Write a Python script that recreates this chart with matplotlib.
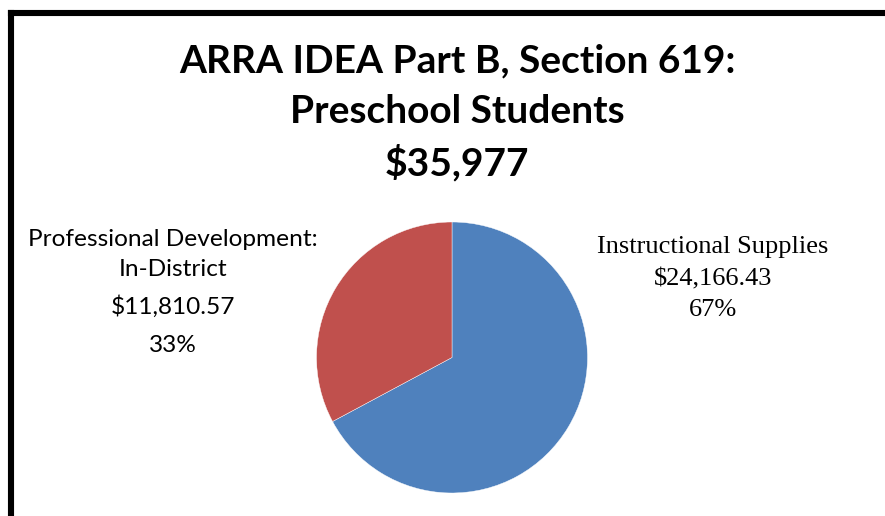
import matplotlib
matplotlib.use("Agg")
import matplotlib.pyplot as plt
from matplotlib.lines import Line2D

categories = ["Instructional Supplies", "Professional Development:\nIn-District"]
values = [24166.43, 11810.57]
percents = ["67%", "33%"]
colors = ["#4F81BD", "#C0504D"]
title_lines = ["ARRA IDEA Part B, Section 619:", "Preschool Students", "$35,977"]

W, H = 885, 516
fig = plt.figure(figsize=(W / 100, H / 100), dpi=100)
fig.patch.set_facecolor("white")

def fx(px):
    return px / W

def fy(py):
    return 1 - py / H

# border (left & top)
fig.add_artist(Line2D([fx(11), fx(11)], [fy(13), 0], transform=fig.transFigure,
                      color="black", linewidth=4.4, solid_capstyle="projecting"))
fig.add_artist(Line2D([fx(11), 1], [fy(13), fy(13)], transform=fig.transFigure,
                      color="black", linewidth=4.4, solid_capstyle="projecting"))

# title
for txt, y in zip(title_lines, [61, 112, 163]):
    fig.text(fx(457), fy(y), txt, ha="center", va="center", fontsize=28,
             fontweight="bold", family="Lato")

# pie
cx, cy, r = 452, 357.5, 135.5
ax = fig.add_axes([fx(cx - r), (H - cy - r) / H, 2 * r / W, 2 * r / H])
ax.pie(values, colors=colors, startangle=90, counterclock=False, radius=1,
       wedgeprops=dict(edgecolor="white", linewidth=0.3))
ax.set_xlim(-1, 1)
ax.set_ylim(-1, 1)
ax.set_aspect("auto")
ax.axis("off")

# labels
serif_fs = 19
fig.text(fx(713), fy(247), categories[0], ha="center", va="center",
         fontsize=serif_fs, family="Liberation Serif")
fig.text(fx(713), fy(279), f"${values[0]:,.2f}", ha="center", va="center",
         fontsize=serif_fs, family="Liberation Serif")
fig.text(fx(713), fy(310), percents[0], ha="center", va="center",
         fontsize=serif_fs, family="Liberation Serif")

sans_fs = 17.6
cat_lines = categories[1].split("\n")
fig.text(fx(173), fy(240), cat_lines[0], ha="center", va="center",
         fontsize=sans_fs, family="Lato")
fig.text(fx(173), fy(270), cat_lines[1], ha="center", va="center",
         fontsize=sans_fs, family="Lato")
fig.text(fx(173), fy(307), f"${values[1]:,.2f}", ha="center", va="center",
         fontsize=sans_fs, family="Lato")
fig.text(fx(173), fy(345), percents[1], ha="center", va="center",
         fontsize=sans_fs, family="Lato")

fig.savefig("out.png", dpi=100, facecolor="white")
